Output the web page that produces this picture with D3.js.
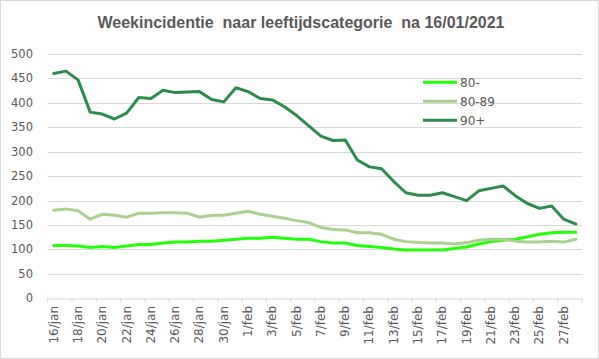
<!DOCTYPE html>
<html>
<head>
<meta charset="utf-8">
<script src="https://cdn.jsdelivr.net/npm/d3@7"></script>
<style>
  body { margin: 0; background: #fff; }
  svg { display: block; }
</style>
</head>
<body>
<div id="chart"></div>
<script>
// ===== data =====
var dates = ["16/jan","17/jan","18/jan","19/jan","20/jan","21/jan","22/jan","23/jan","24/jan","25/jan",
    "26/jan","27/jan","28/jan","29/jan","30/jan","31/jan","1/feb","2/feb","3/feb","4/feb",
    "5/feb","6/feb","7/feb","8/feb","9/feb","10/feb","11/feb","12/feb","13/feb","14/feb",
    "15/feb","16/feb","17/feb","18/feb","19/feb","20/feb","21/feb","22/feb","23/feb","24/feb",
    "25/feb","26/feb","27/feb","28/feb"];

var under80 = [108,108,107,104,106,104,107,110,110,113,
    115,115,117,117,119,121,123,123,125,123,
    121,121,116,113,113,108,106,104,101,99,
    99,99,99,102,105,111,116,119,121,126,
    131,134,135,135];

var age8089 = [180,183,179,162,172,170,166,174,174,175,
    175,174,166,170,170,174,178,172,168,164,
    159,155,145,141,140,134,134,131,121,116,
    114,113,113,111,114,119,121,121,117,115,
    115,117,115,121];

var age90 = [460,465,447,381,377,367,379,411,409,426,
    421,422,423,407,402,431,423,409,406,392,
    374,353,332,323,324,283,269,265,239,216,
    211,211,216,208,200,220,225,230,210,194,
    184,189,162,152];

var seriesNames = ["80-", "80-89", "90+"];
var colors = ["#22ff08", "#a9d18e", "#2e8b4e"];
var yTicks = [0,50,100,150,200,250,300,350,400,450,500];

var W = 599, H = 359;
var plotL = 47.7, plotR = 582, plotT = 54, plotB = 298.3;

var svg = d3.select("#chart")
    .append("svg")
    .attr("width", W)
    .attr("height", H)

// chart border
svg.append("rect")
    .attr("x", 0.5).attr("y", 0.5)
    .attr("width", W - 1).attr("height", H - 1)
    .attr("fill", "none")
    .attr("stroke", "#d9d9d9")

svg.append("text")
    .text("Weekincidentie  naar leeftijdscategorie  na 16/01/2021")
    .attr("x", 301)
    .attr("y", 28)
    .attr("text-anchor", "middle")
    .attr("font-family", "Liberation Sans, Arial, sans-serif")
    .attr("font-size", "16px")
    .attr("font-weight", "bold")
    .attr("fill", "#595959")
    .style("white-space", "pre")

var x = d3.scaleBand()
    .domain(dates)
    .range([plotL, plotR])

var y = d3.scaleLinear()
    .domain([0, 500])
    .range([plotB, plotT])

// gridlines
svg.selectAll("line.grid")
    .data(yTicks.slice(1))
    .enter()
    .append("line")
    .attr("class", "grid")
    .attr("x1", plotL).attr("x2", plotR)
    .attr("y1", function(d){ return Math.round(y(d)) + 0.5 })
    .attr("y2", function(d){ return Math.round(y(d)) + 0.5 })
    .attr("stroke", "#d9d9d9")
    .attr("stroke-width", 1)

// y labels
svg.selectAll("text.ylab")
    .data(yTicks)
    .enter()
    .append("text")
    .attr("class", "ylab")
    .text(function(d){ return d })
    .attr("x", 33)
    .attr("y", function(d){ return y(d) + 4 })
    .attr("text-anchor", "end")
    .attr("font-family", "DejaVu Sans, sans-serif")
    .attr("font-size", "11.5px")
    .attr("fill", "#595959")

// x axis line and ticks
var xAxis = d3.axisBottom(x)
    .tickValues(dates.filter(function(d, i){ return i % 2 == 0 }))
    .tickSize(4)
    .tickSizeOuter(0)
    .tickFormat("")

var gx = svg.append("g")
    .attr("transform", "translate(0," + (Math.round(plotB) + 0.5) + ")")
    .call(xAxis)
gx.select(".domain").attr("stroke", "#d9d9d9")
gx.selectAll(".tick line")
    .attr("stroke", "#d9d9d9")
    .attr("transform", "translate(" + (-x.bandwidth() / 2) + ",0)")
// closing tick at right edge
gx.append("line")
    .attr("x1", plotR).attr("x2", plotR)
    .attr("y1", 0).attr("y2", 4)
    .attr("stroke", "#d9d9d9")

// x labels
svg.selectAll("text.xlab")
    .data(dates.filter(function(d, i){ return i % 2 == 0 }))
    .enter()
    .append("text")
    .attr("class", "xlab")
    .text(function(d){ return d })
    .attr("transform", function(d){
        var cx = x(d) + x.bandwidth() / 2 + 4
        return "translate(" + cx + ",306) rotate(-90)"
    })
    .attr("text-anchor", "end")
    .attr("font-family", "DejaVu Sans, sans-serif")
    .attr("font-size", "12px")
    .attr("fill", "#595959")

// lines
var line = d3.line()
    .x(function(d, i){ return x(dates[i]) + x.bandwidth() / 2 })
    .y(function(d){ return y(d) })

var allSeries = [under80, age8089, age90];
allSeries.forEach(function(s, k){
    svg.append("path")
        .datum(s)
        .attr("d", line)
        .attr("fill", "none")
        .attr("stroke", colors[k])
        .attr("stroke-width", 3)
        .attr("stroke-linejoin", "round")
        .attr("stroke-linecap", "round")
})

// legend
var legend = svg.selectAll("g.legend")
    .data(seriesNames)
    .enter()
    .append("g")
    .attr("class", "legend")
    .attr("transform", function(d, i){ return "translate(423," + (82.3 + i * 19) + ")" })

legend.append("line")
    .attr("x1", 0).attr("x2", 34)
    .attr("stroke", function(d, i){ return colors[i] })
    .attr("stroke-width", 3)

legend.append("text")
    .text(function(d){ return d })
    .attr("x", 37)
    .attr("y", 4.5)
    .attr("font-family", "DejaVu Sans, sans-serif")
    .attr("font-size", "12px")
    .attr("fill", "#595959")
</script>
</body>
</html>
